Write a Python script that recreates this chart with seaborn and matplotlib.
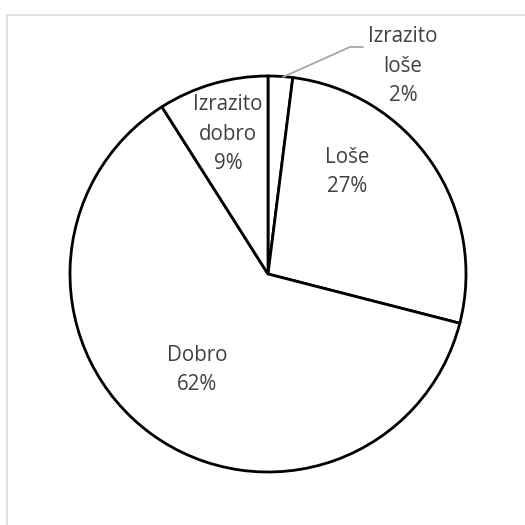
import matplotlib
matplotlib.use("Agg")
import matplotlib.pyplot as plt
from matplotlib.patches import Rectangle
import seaborn as sns

categories = ["Izrazito loše", "Loše", "Dobro", "Izrazito dobro"]
values = [2, 27, 62, 9]
label_texts = ["Izrazito\nloše\n2%", "Loše\n27%", "Dobro\n62%", "Izrazito\ndobro\n9%"]

sns.set_theme(style="white")
plt.rcParams['font.family'] = ['Open Sans', 'DejaVu Sans']

W = 525
fig = plt.figure(figsize=(5.25, 5.25), dpi=100)
fig.patch.set_facecolor("white")

# outer frame (extends past right/bottom edge)
fig.add_artist(Rectangle((7 / W, -0.1), 1.2, 1 - 15 / W + 0.1, transform=fig.transFigure,
                         fill=False, edgecolor="#D9D9D9", linewidth=1.2))

cx, cy, R = 268, 274, 198
ax = fig.add_axes([(cx - R) / W, (W - cy - R) / W, 2 * R / W, 2 * R / W])
ax.pie(values, startangle=90, counterclock=False, colors=["white"] * len(values),
       wedgeprops=dict(edgecolor="black", linewidth=2.0))
ax.set_xlim(-1, 1)
ax.set_ylim(-1, 1)
ax.set_aspect("equal")
ax.axis("off")

def px2d(x, y):
    return ((x - cx) / R, (cy - y) / R)

txt_color = "#404040"
fs = 14.8
positions = [(403, 66), (347, 172), (197, 370), (228, 134)]
for lab, (px, py) in zip(label_texts, positions):
    x, y = px2d(px, py)
    ax.text(x, y, lab, ha="center", va="center", fontsize=fs, color=txt_color,
            linespacing=1.55, clip_on=False)

# leader line for smallest slice
p0 = px2d(283, 77)
p1 = px2d(350, 47)
p2 = px2d(363, 47)
ax.plot([p0[0], p1[0], p2[0]], [p0[1], p1[1], p2[1]], color="#A6A6A6", lw=1.3, clip_on=False)

fig.savefig("out.png", dpi=100, facecolor="white")
